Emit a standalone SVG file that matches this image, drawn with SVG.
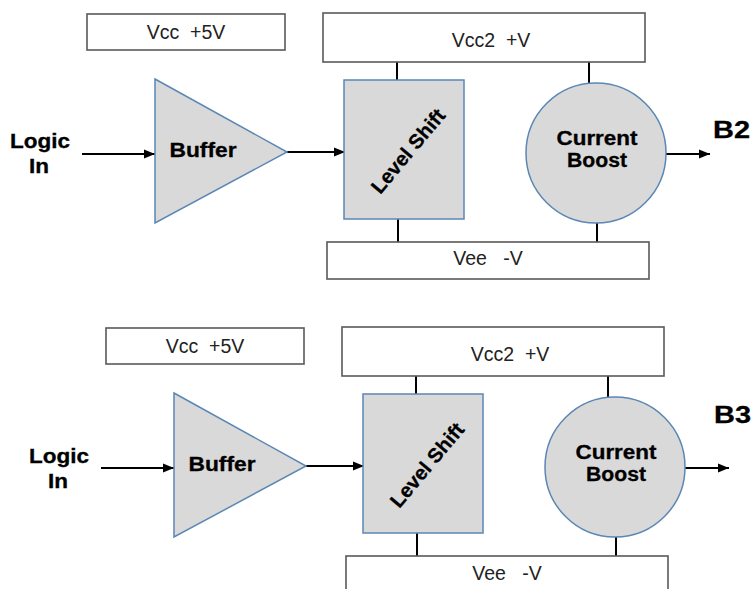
<svg xmlns="http://www.w3.org/2000/svg" width="751" height="589" viewBox="0 0 751 589">
<style>
.rail{fill:#fff;stroke:#595959;stroke-width:1.6}
.blk{fill:#d9d9d9;stroke:#5b87b5;stroke-width:1.5}
.wire{stroke:#000;stroke-width:2;fill:none}
.arr{stroke:#000;stroke-width:2;fill:none;marker-end:url(#ah)}
.t{font-family:"Liberation Sans",Arial,sans-serif;font-size:19.5px;fill:#222;white-space:pre}
.b{font-family:"Liberation Sans",Arial,sans-serif;font-size:20px;font-weight:bold;fill:#000;stroke:#000;stroke-width:0.3}
</style>
<defs>
<marker id="ah" markerUnits="userSpaceOnUse" markerWidth="12" markerHeight="10" refX="11" refY="5" orient="auto">
<path d="M0,0.5 L11,5 L0,9.5 Z" fill="#000"/>
</marker>
</defs>
<rect width="751" height="589" fill="#fff"/>

<g id="diagram-b2">
<g id="connectors-b2">
<line class="arr" x1="82" y1="154" x2="155" y2="154"/>
<line class="arr" x1="287" y1="152" x2="345" y2="152"/>
<line class="arr" x1="666" y1="154" x2="710" y2="154"/>
<line class="wire" x1="397" y1="62" x2="397" y2="80"/>
<line class="wire" x1="398" y1="219" x2="398" y2="242"/>
<line class="wire" x1="589" y1="62" x2="589" y2="83"/>
<line class="wire" x1="597" y1="223" x2="597" y2="244"/>
</g>
<g id="vcc-b2"><rect class="rail" x="87" y="14" width="198" height="36"/><text class="t" x="186" y="39" text-anchor="middle">Vcc  +5V</text></g>
<g id="vcc2-b2"><rect class="rail" x="323" y="13" width="322" height="49"/><text class="t" x="491" y="47" text-anchor="middle">Vcc2  +V</text></g>
<g id="vee-b2"><rect class="rail" x="327" y="242" width="322" height="37"/><text class="t" x="488" y="265" text-anchor="middle">Vee   -V</text></g>
<g id="logic-b2"><text class="b" x="40" y="148" text-anchor="middle" textLength="60" lengthAdjust="spacingAndGlyphs">Logic</text><text class="b" x="39" y="173" text-anchor="middle" textLength="20" lengthAdjust="spacingAndGlyphs">In</text></g>
<g id="buffer-b2"><polygon class="blk" points="155,79 287,152 155,223"/><text class="b" x="203" y="157" text-anchor="middle" textLength="67" lengthAdjust="spacingAndGlyphs">Buffer</text></g>
<g id="level-b2"><rect class="blk" x="344" y="80" width="120" height="139"/><text class="b" transform="translate(408,151) rotate(-50)" x="0" y="7" text-anchor="middle" textLength="103" lengthAdjust="spacingAndGlyphs">Level Shift</text></g>
<g id="boost-b2"><circle class="blk" cx="596" cy="153" r="70"/><text class="b" x="597" y="145" text-anchor="middle" textLength="81" lengthAdjust="spacingAndGlyphs">Current</text><text class="b" x="597" y="167" text-anchor="middle" textLength="60" lengthAdjust="spacingAndGlyphs">Boost</text></g>
<g id="label-b2"><text class="b" x="713" y="138" style="font-size:23px" textLength="37" lengthAdjust="spacingAndGlyphs">B2</text></g>
</g>

<g id="diagram-b3">
<g id="connectors-b3">
<line class="arr" x1="101" y1="468" x2="174" y2="468"/>
<line class="arr" x1="306" y1="466" x2="364" y2="466"/>
<line class="arr" x1="685" y1="468" x2="729" y2="468"/>
<line class="wire" x1="416" y1="376" x2="416" y2="394"/>
<line class="wire" x1="417" y1="533" x2="417" y2="556"/>
<line class="wire" x1="608" y1="376" x2="608" y2="397"/>
<line class="wire" x1="616" y1="537" x2="616" y2="558"/>
</g>
<g id="vcc-b3"><rect class="rail" x="106" y="328" width="198" height="36"/><text class="t" x="205" y="353" text-anchor="middle">Vcc  +5V</text></g>
<g id="vcc2-b3"><rect class="rail" x="342" y="327" width="322" height="49"/><text class="t" x="510" y="361" text-anchor="middle">Vcc2  +V</text></g>
<g id="vee-b3"><rect class="rail" x="346" y="556" width="322" height="37"/><text class="t" x="507" y="580" text-anchor="middle">Vee   -V</text></g>
<g id="logic-b3"><text class="b" x="59" y="463" text-anchor="middle" textLength="60" lengthAdjust="spacingAndGlyphs">Logic</text><text class="b" x="58" y="488" text-anchor="middle" textLength="20" lengthAdjust="spacingAndGlyphs">In</text></g>
<g id="buffer-b3"><polygon class="blk" points="174,393 306,466 174,537"/><text class="b" x="222" y="471" text-anchor="middle" textLength="67" lengthAdjust="spacingAndGlyphs">Buffer</text></g>
<g id="level-b3"><rect class="blk" x="363" y="394" width="120" height="139"/><text class="b" transform="translate(427,465) rotate(-50)" x="0" y="7" text-anchor="middle" textLength="103" lengthAdjust="spacingAndGlyphs">Level Shift</text></g>
<g id="boost-b3"><circle class="blk" cx="615" cy="467" r="70"/><text class="b" x="616" y="459" text-anchor="middle" textLength="81" lengthAdjust="spacingAndGlyphs">Current</text><text class="b" x="616" y="481" text-anchor="middle" textLength="60" lengthAdjust="spacingAndGlyphs">Boost</text></g>
<g id="label-b3"><text class="b" x="714" y="423" style="font-size:23px" textLength="37" lengthAdjust="spacingAndGlyphs">B3</text></g>
</g>
</svg>
